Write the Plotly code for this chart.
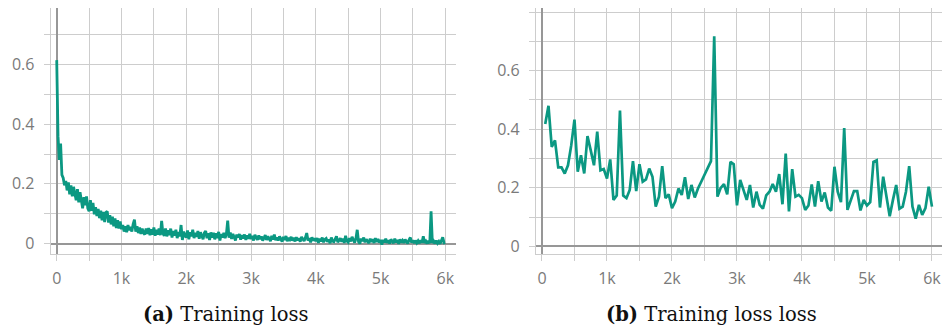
import plotly.graph_objects as go

# ---------------- data ----------------
# (a) Training loss: sampled every 20 steps from 0 to 6000
train_step = list(range(0, 6001, 20))
train_loss = [
    0.615, 0.36, 0.28, 0.335, 0.23, 0.22, 0.195, 0.21, 0.178, 0.205,
    0.165, 0.195, 0.158, 0.19, 0.168, 0.145, 0.182, 0.138, 0.172, 0.15,
    0.118, 0.155, 0.128, 0.158, 0.118, 0.108, 0.145, 0.11, 0.136, 0.098,
    0.122, 0.092, 0.116, 0.085, 0.11, 0.078, 0.106, 0.072, 0.104, 0.108,
    0.07, 0.095, 0.064, 0.09, 0.058, 0.084, 0.052, 0.078, 0.05, 0.074,
    0.048, 0.062, 0.04, 0.058, 0.038, 0.062, 0.044, 0.056, 0.04, 0.065,
    0.08, 0.04, 0.058, 0.035, 0.054, 0.032, 0.05, 0.036, 0.03, 0.05,
    0.032, 0.052, 0.028, 0.048, 0.03, 0.054, 0.026, 0.046, 0.03, 0.05,
    0.028, 0.076, 0.034, 0.026, 0.05, 0.024, 0.044, 0.028, 0.05, 0.02,
    0.042, 0.026, 0.046, 0.018, 0.038, 0.024, 0.062, 0.012, 0.04, 0.026,
    0.02, 0.044, 0.014, 0.038, 0.024, 0.046, 0.018, 0.036, 0.022, 0.042,
    0.016, 0.038, 0.024, 0.014, 0.036, 0.042, 0.018, 0.034, 0.012, 0.037,
    0.02, 0.036, 0.014, 0.034, 0.018, 0.039, 0.01, 0.032, 0.02, 0.036,
    0.018, 0.032, 0.077, 0.02, 0.037, 0.015, 0.032, 0.022, 0.01, 0.03,
    0.02, 0.032, 0.013, 0.028, 0.017, 0.03, 0.012, 0.027, 0.016, 0.032,
    0.015, 0.026, 0.01, 0.029, 0.018, 0.012, 0.027, 0.015, 0.024, 0.01,
    0.018, 0.028, 0.012, 0.024, 0.016, 0.008, 0.026, 0.013, 0.03, 0.011,
    0.02, 0.01, 0.024, 0.014, 0.006, 0.022, 0.012, 0.025, 0.008, 0.019,
    0.013, 0.022, 0.01, 0.019, 0.007, 0.021, 0.011, 0.018, 0.006, 0.022,
    0.012, 0.008, 0.02, 0.035, 0.01, 0.018, 0.004, 0.021, 0.01, 0.017,
    0.008, 0.018, 0.002, 0.016, 0.007, 0.02, 0.004, 0.014, 0.017, 0.006,
    0.014, 0.001, 0.02, 0.008, 0.006, 0.017, 0.024, 0.004, 0.014, 0.018,
    0.006, 0.016, 0.002, 0.026, 0.008, 0.004, 0.018, 0.007, 0.022, 0.01,
    0.003, 0.017, 0.046, 0.006, 0.0, 0.016, 0.008, 0.02, 0.004, 0.014,
    0.007, 0.001, 0.016, 0.006, 0.014, 0.002, 0.018, 0.005, 0.015, 0.003,
    0.012, -0.004, 0.012, 0.004, 0.016, 0.002, 0.011, 0.0, 0.014, 0.005,
    0.001, 0.016, 0.004, 0.012, -0.001, 0.014, 0.003, 0.01, 0.002, 0.013,
    0.004, 0.0, 0.012, 0.02, 0.003, 0.011, 0.001, 0.01, 0.002, 0.009,
    0.001, 0.011, 0.003, 0.024, 0.002, 0.008, 0.0, 0.009, 0.001, 0.108,
    0.002, 0.008, 0.0, 0.01, 0.001, 0.007, -0.001, 0.008, 0.021, 0.002,
    0.003,
]

# (b) Training loss loss: sampled every 50 steps (gap around 2500)
loss2_step = (list(range(50, 2451, 50)) + list(range(2600, 6001, 50)))
loss2_value = [
    0.418, 0.48, 0.34, 0.362, 0.27, 0.27, 0.249, 0.277, 0.345, 0.433,
    0.255, 0.311, 0.249, 0.377, 0.328, 0.277, 0.392, 0.26, 0.264, 0.232,
    0.297, 0.159, 0.174, 0.464, 0.174, 0.165, 0.193, 0.291, 0.189, 0.281,
    0.221, 0.229, 0.266, 0.238, 0.136, 0.17, 0.274, 0.165, 0.178, 0.131,
    0.153, 0.198, 0.176, 0.236, 0.162, 0.21, 0.167, 0.198, 0.221,
    0.291, 0.717, 0.17, 0.2, 0.213, 0.178, 0.289, 0.281, 0.14, 0.227,
    0.193, 0.159, 0.21, 0.133, 0.187, 0.142, 0.129, 0.174, 0.187, 0.213,
    0.187, 0.247, 0.144, 0.317, 0.12, 0.264, 0.17, 0.176, 0.165, 0.125,
    0.14, 0.212, 0.136, 0.223, 0.153, 0.184, 0.133, 0.122, 0.272, 0.187,
    0.151, 0.404, 0.125, 0.159, 0.189, 0.189, 0.123, 0.159, 0.14, 0.151,
    0.289, 0.294, 0.133, 0.238, 0.165, 0.103, 0.159, 0.21, 0.129, 0.136,
    0.187, 0.274, 0.136, 0.095, 0.142, 0.108, 0.131, 0.204, 0.136,
]

x_ticks = [0, 1000, 2000, 3000, 4000, 5000, 6000]
x_tick_labels = ["0", "1k", "2k", "3k", "4k", "5k", "6k"]
y_ticks = [0, 0.2, 0.4, 0.6]
y_tick_labels = ["0", "0.2", "0.4", "0.6"]
captions = ["<b>(a)</b> Training loss", "<b>(b)</b> Training loss loss"]

# ---------------- style ----------------
W, H = 943, 333
LINE = "#0b9882"
GRID = "#cdcdcd"
ZERO = "#979797"
TICKFONT = dict(family="Open Sans", size=16, color="#7a7a7a")


def px_x(a, b):
    return [a / W, b / W]


def px_y(top, bottom):
    return [(H - bottom) / H, (H - top) / H]


fig = go.Figure()
fig.add_trace(go.Scatter(x=train_step, y=train_loss, mode="lines",
                         line=dict(color=LINE, width=2.8),
                         xaxis="x", yaxis="y", showlegend=False))
fig.add_trace(go.Scatter(x=loss2_step, y=loss2_value, mode="lines",
                         line=dict(color=LINE, width=2.7),
                         xaxis="x2", yaxis="y2", showlegend=False))

common_x = dict(
    tickmode="array", tickvals=x_ticks, ticktext=x_tick_labels,
    showgrid=True, gridcolor=GRID, gridwidth=1.3,
    ticks="outside", ticklen=6, tickcolor=GRID, tickwidth=1.3,
    minor=dict(dtick=500, tick0=0, showgrid=True, gridcolor=GRID, gridwidth=1.3,
               ticks="outside", ticklen=6, tickcolor=GRID, tickwidth=1.3),
    showline=True, linecolor=GRID, linewidth=1.2,
    zeroline=True, zerolinecolor=ZERO, zerolinewidth=2.2,
    tickfont=TICKFONT, ticklabelstandoff=3,
)
common_y = dict(
    tickmode="array", tickvals=y_ticks, ticktext=y_tick_labels,
    showgrid=True, gridcolor=GRID, gridwidth=1.3,
    ticks="outside", ticklen=6, tickcolor=GRID, tickwidth=1.3,
    minor=dict(dtick=0.1, tick0=0, showgrid=True, gridcolor=GRID, gridwidth=1.3,
               ticks="outside", ticklen=6, tickcolor=GRID, tickwidth=1.3),
    showline=True, linecolor=GRID, linewidth=1.2,
    zeroline=True, zerolinecolor=ZERO, zerolinewidth=2.2,
    tickfont=TICKFONT, ticklabelstandoff=6,
)

fig.update_layout(
    width=W, height=H,
    margin=dict(l=0, r=0, t=0, b=0),
    paper_bgcolor="white", plot_bgcolor="white",
    xaxis=dict(common_x, domain=px_x(50.7, 456), range=[-93, 6165], anchor="y"),
    yaxis=dict(common_y, domain=px_y(8, 256.7), range=[-0.0365, 0.79], anchor="x"),
    xaxis2=dict(common_x, domain=px_x(536, 941.7), range=[-92, 6150], anchor="y2"),
    yaxis2=dict(common_y, domain=px_y(8.3, 256.7), range=[-0.027, 0.813], anchor="x2"),
    annotations=[
        dict(text=captions[0], x=225.5 / W, y=(H - 317.5) / H, xref="paper", yref="paper",
             showarrow=False, xanchor="center", yanchor="middle",
             font=dict(family="DejaVu Serif", size=19.5, color="#111111")),
        dict(text=captions[1], x=711 / W, y=(H - 317.5) / H, xref="paper", yref="paper",
             showarrow=False, xanchor="center", yanchor="middle",
             font=dict(family="DejaVu Serif", size=19.5, color="#111111")),
    ],
)

fig.write_html("out.html")
